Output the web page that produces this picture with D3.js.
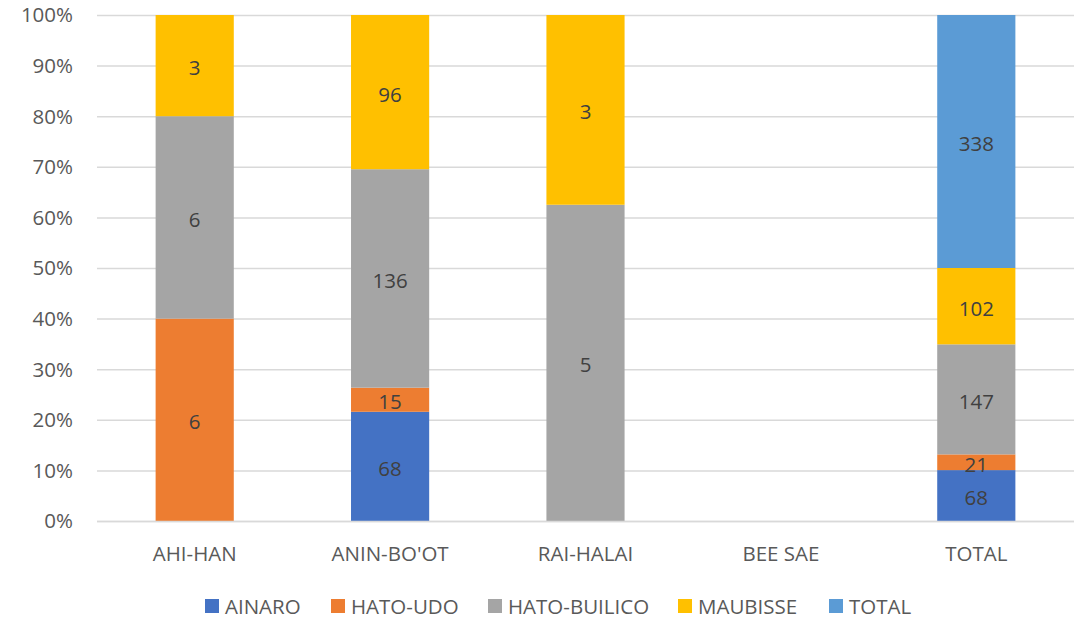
<!DOCTYPE html>
<html>
<head>
<meta charset="utf-8">
<script src="https://cdn.jsdelivr.net/npm/d3@7"></script>
<style>
  body { margin: 0; background: #fff; }
  text { font-family: "Open Sans", sans-serif; }
</style>
</head>
<body>
<div id="chart"></div>
<script>
// categories and series values
var categories = ["AHI-HAN", "ANIN-BO'OT", "RAI-HALAI", "BEE SAE", "TOTAL"];
var seriesNames = ["AINARO", "HATO-UDO", "HATO-BUILICO", "MAUBISSE", "TOTAL"];
var ainaro = [0, 68, 0, 0, 68];
var hatoUdo = [6, 15, 0, 0, 21];
var hatoBuilico = [6, 136, 5, 0, 147];
var maubisse = [3, 96, 3, 0, 102];
var total = [0, 0, 0, 0, 338];
var yTicks = [0, 0.1, 0.2, 0.3, 0.4, 0.5, 0.6, 0.7, 0.8, 0.9, 1];

var colors = ["#4472C4", "#ED7D31", "#A5A5A5", "#FFC000", "#5B9BD5"];
var seriesValues = [ainaro, hatoUdo, hatoBuilico, maubisse, total];

var width = 1089, height = 619;
var margin = {top: 15, left: 97, right: 15, bottom: 98};
var fontSize = 20.5;

var svg = d3.select("#chart").append("svg")
  .attr("width", width)
  .attr("height", height);

// build rows for stacking
var rows = categories.map(function(c, i) {
  var r = {cat: c};
  seriesNames.forEach(function(s, j) { r["s" + j] = seriesValues[j][i]; });
  return r;
});
var keys = seriesNames.map(function(s, j) { return "s" + j; });
var stacked = d3.stack().keys(keys).offset(d3.stackOffsetExpand)(rows);

var x = d3.scaleBand()
  .domain(categories)
  .range([margin.left, width - margin.right])
  .paddingInner(0.6)
  .paddingOuter(0.3);

var y = d3.scaleLinear()
  .domain([0, 1])
  .range([height - margin.bottom, margin.top]);

// gridlines
svg.append("g")
  .selectAll("line")
  .data(yTicks)
  .enter()
  .append("line")
  .attr("x1", margin.left)
  .attr("x2", width - margin.right)
  .attr("y1", function(d) { return y(d) + 0.5; })
  .attr("y2", function(d) { return y(d) + 0.5; })
  .attr("stroke", "#D9D9D9")
  .attr("stroke-width", 1.5);

// y tick labels
svg.append("g")
  .selectAll("text")
  .data(yTicks)
  .enter()
  .append("text")
  .attr("x", 73)
  .attr("y", function(d) { return y(d); })
  .attr("dy", "0.36em")
  .attr("text-anchor", "end")
  .attr("font-size", fontSize)
  .attr("fill", "#595959")
  .text(function(d) { return d3.format(".0%")(d); });

// bars
var layers = svg.append("g")
  .selectAll("g")
  .data(stacked)
  .enter()
  .append("g")
  .attr("fill", function(d, i) { return colors[i]; });

layers.selectAll("rect")
  .data(function(d) { return d; })
  .enter()
  .append("rect")
  .filter(function(d) { return d[1] - d[0] > 0; })
  .attr("x", function(d) { return x(d.data.cat); })
  .attr("width", x.bandwidth())
  .attr("y", function(d) { return y(d[1]); })
  .attr("height", function(d) { return y(d[0]) - y(d[1]); });

// data labels
layers.selectAll("text")
  .data(function(d) { return d.map(function(p) { return {p: p, key: d.key}; }); })
  .enter()
  .append("text")
  .filter(function(d) { return d.p[1] - d.p[0] > 0; })
  .attr("x", function(d) { return x(d.p.data.cat) + x.bandwidth() / 2; })
  .attr("y", function(d) { return (y(d.p[0]) + y(d.p[1])) / 2; })
  .attr("dy", "0.46em")
  .attr("text-anchor", "middle")
  .attr("font-size", fontSize)
  .attr("fill", "#404040")
  .text(function(d) { return d.p.data[d.key]; });

// x axis line
svg.append("line")
  .attr("x1", margin.left)
  .attr("x2", width - margin.right)
  .attr("y1", y(0) + 0.5)
  .attr("y2", y(0) + 0.5)
  .attr("stroke", "#D9D9D9")
  .attr("stroke-width", 1.5);

// category labels
svg.append("g")
  .selectAll("text")
  .data(categories)
  .enter()
  .append("text")
  .attr("x", function(d) { return x(d) + x.bandwidth() / 2; })
  .attr("y", 561)
  .attr("text-anchor", "middle")
  .attr("font-size", fontSize)
  .attr("fill", "#595959")
  .text(function(d) { return d; });

// legend
var legendX = [205, 331, 488, 678, 829];
var legend = svg.append("g")
  .selectAll("g")
  .data(seriesNames)
  .enter()
  .append("g")
  .attr("transform", function(d, i) { return "translate(" + legendX[i] + ",599)"; });

legend.append("rect")
  .attr("width", 14)
  .attr("height", 14)
  .attr("fill", function(d, i) { return colors[i]; });

legend.append("text")
  .attr("x", 20)
  .attr("y", 7)
  .attr("dy", "0.37em")
  .attr("font-size", fontSize)
  .attr("fill", "#595959")
  .text(function(d) { return d; });
</script>
</body>
</html>
